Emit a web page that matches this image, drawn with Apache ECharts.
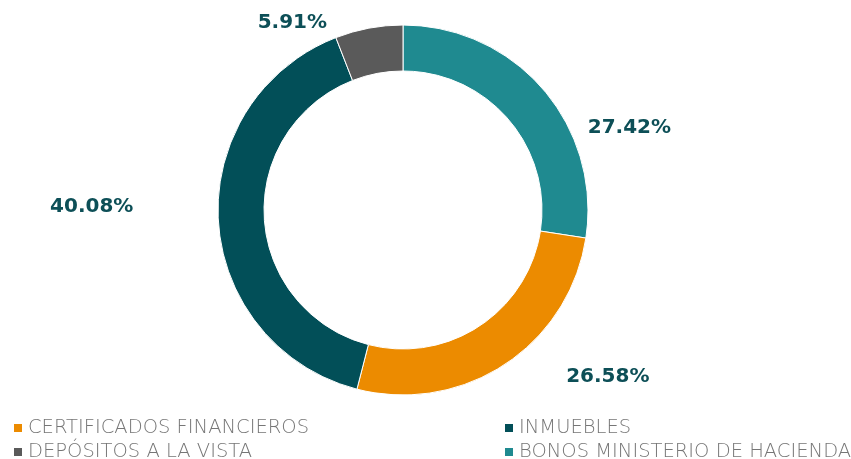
<!DOCTYPE html>
<html>
<head>
<meta charset="utf-8">
<script src="https://cdn.jsdelivr.net/npm/echarts@6/dist/echarts.min.js"></script>
<style>
  html, body { margin: 0; padding: 0; background: #fff; }
  #main { width: 851px; height: 459px; }
</style>
</head>
<body>
<div id="main"></div>
<script>
// datos del gráfico (orden horario desde arriba)
var categorias = ['BONOS MINISTERIO DE HACIENDA', 'CERTIFICADOS FINANCIEROS', 'INMUEBLES', 'DEPÓSITOS A LA VISTA'];
var porcentajes = [27.42, 26.58, 40.08, 5.91];
var colores = ['#1f8a90', '#ec8b00', '#024f58', '#5a5a5a'];
var leyendaIzq = ['CERTIFICADOS FINANCIEROS', 'DEPÓSITOS A LA VISTA'];
var leyendaDer = ['INMUEBLES', 'BONOS MINISTERIO DE HACIENDA'];

// desplazamiento de etiquetas respecto a la posicion por defecto
var ajusteEtiquetas = [[13, 48], [33, 0], [-50, -15], [-19, 9]];

var chart = echarts.init(document.getElementById('main'));

var datos = categorias.map(function (c, i) {
    return { name: c, value: porcentajes[i], itemStyle: { color: colores[i] } };
});

var estiloLeyenda = {
    fontFamily: 'DejaVu Sans',
    fontWeight: 200,
    fontSize: 19.5,
    lineHeight: 20,
    color: '#767676'
};

var option = {
    animation: false,
    legend: [{
        data: leyendaIzq,
        orient: 'vertical',
        left: 12,
        top: 418,
        height: 80,
        padding: 0,
        icon: 'rect',
        itemWidth: 10,
        itemHeight: 10,
        itemGap: 4,
        textStyle: estiloLeyenda
    }, {
        data: leyendaDer,
        orient: 'vertical',
        left: 503,
        top: 418,
        height: 80,
        padding: 0,
        icon: 'rect',
        itemWidth: 10,
        itemHeight: 10,
        itemGap: 4,
        textStyle: estiloLeyenda
    }],
    series: [{
        type: 'pie',
        center: [403, 210],
        radius: [139, 185],
        startAngle: 90,
        clockwise: true,
        avoidLabelOverlap: false,
        itemStyle: { borderColor: '#ffffff', borderWidth: 1 },
        label: {
            show: true,
            position: 'outside',
            formatter: function (p) { return p.value.toFixed(2) + '%'; },
            fontFamily: 'DejaVu Sans',
            fontWeight: 'bold',
            fontSize: 20,
            color: '#0d4f57'
        },
        labelLine: { show: false, length: 15, length2: 15 },
        labelLayout: function (p) {
            var a = ajusteEtiquetas[p.dataIndex];
            return { dx: a[0], dy: a[1] };
        },
        data: datos
    }]
};

chart.setOption(option);
</script>
</body>
</html>
